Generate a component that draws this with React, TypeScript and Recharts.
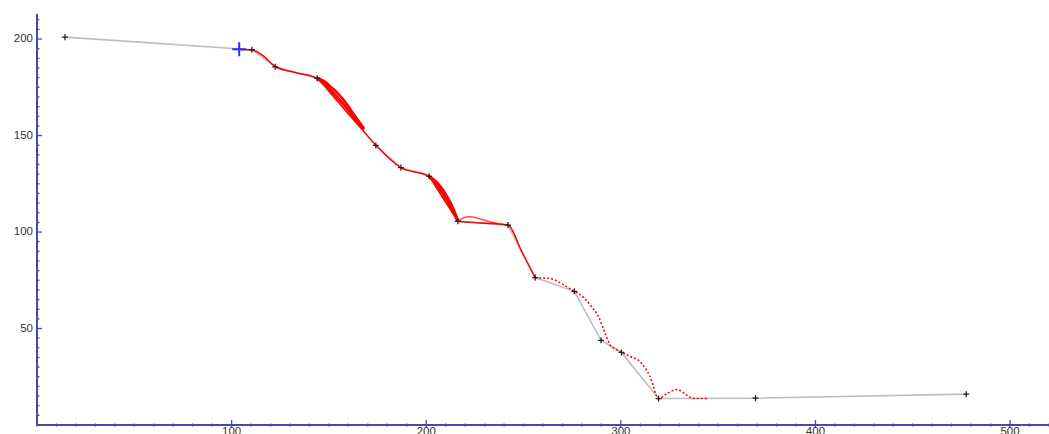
import React from 'react';
import { ComposedChart, Line, XAxis, YAxis, Scatter } from 'recharts';

// Gray polyline (measured points)
const grayX = [14.4, 110.4, 122.4, 144.0, 174.1, 187.0, 201.5, 216.3, 242.0, 256.0, 276.1, 289.8, 300.3, 319.4, 369.2, 477.5];
const grayY = [201.0, 194.5, 185.6, 179.7, 144.9, 133.4, 128.9, 105.6, 103.6, 76.4, 69.3, 43.9, 37.6, 13.7, 13.9, 16.0];

// Red fitted curve, solid part
const redSolidX = [103.6, 110.5, 116.0, 122.4, 133.0, 144.0, 150.6, 158.3, 166.1, 174.1, 187.0, 201.5, 204.6, 207.2, 209.8, 212.3, 214.9, 216.3, 228.0, 242.0, 249.0, 256.0];
const redSolidY = [194.6, 194.3, 191.5, 185.8, 182.6, 179.7, 172.3, 163.3, 154.3, 145.0, 133.4, 128.9, 124.0, 119.9, 115.8, 111.9, 107.8, 105.6, 104.7, 103.6, 90.0, 76.3];

// Red fitted curve, dotted part
const redDotX = [256.0, 263.7, 270.0, 276.1, 281.0, 284.3, 288.6, 292.0, 294.6, 297.0, 300.3, 305.0, 310.0, 315.1, 319.4, 323.7, 328.9, 334.0, 337.4, 344.3];
const redDotY = [76.3, 75.9, 73.0, 69.3, 66.0, 62.1, 56.0, 47.4, 41.3, 39.5, 37.7, 35.5, 32.7, 24.9, 13.7, 16.3, 18.4, 15.4, 13.7, 13.7];

// Red bundle (spread of fitted curves)
const lens1UpX = [144.0, 148.1, 150.6, 154.2, 158.3, 163.5, 168.0];
const lens1UpY = [179.7, 177.9, 175.6, 172.3, 167.5, 160.0, 153.8];
const lens1MidX = [144.0, 148.1, 150.6, 154.2, 158.3, 163.5, 168.0];
const lens1MidY = [179.7, 176.4, 173.9, 169.8, 165.3, 158.6, 153.2];
const lens2UpX = [201.5, 204.6, 207.2, 209.8, 212.3, 214.9, 216.3];
const lens2UpY = [128.9, 126.6, 123.8, 120.0, 115.5, 109.8, 105.6];
const lens2MidX = [201.5, 204.6, 207.2, 209.8, 212.3, 214.9, 216.3];
const lens2MidY = [128.9, 125.3, 121.9, 117.9, 113.7, 108.8, 105.6];
const humpX = [216.3, 219.0, 222.6, 227.8, 233.0, 242.0];
const humpY = [105.6, 107.3, 107.9, 106.8, 105.2, 103.6];

// Blue cross marker
const blueX = [103.9];
const blueY = [194.7];

const xTicks = Array.from({ length: 53 }, (_, i) => i * 10);
const yTicks = Array.from({ length: 43 }, (_, i) => i * 5);

const zip = (xs: number[], ys: number[]) => xs.map((x, i) => ({ x, y: ys[i] }));

const AXIS = '#4a4aa6';
const RED = '#ff0000';
const FONT = 'Liberation Sans, Arial, sans-serif';

const XTick = (props: any) => {
  const { x, y, payload } = props;
  const v = payload.value;
  const major = v % 100 === 0 && v > 0;
  return (
    <g>
      <line x1={x} x2={x} y1={major ? y - 5 : y - 1.5} y2={major ? y + 3 : y + 1.5} stroke={AXIS} strokeWidth={1.3} />
      {major && (
        <text x={x} y={y + 2} textAnchor="middle" dominantBaseline="hanging" fontSize={11.5} fill="#333" fontFamily={FONT}>
          {v}
        </text>
      )}
    </g>
  );
};

const YTick = (props: any) => {
  const { x, y, payload } = props;
  const v = payload.value;
  const major = v % 50 === 0 && v > 0;
  return (
    <g>
      <line x1={x - 1} x2={major ? x + 5 : x + 2.5} y1={y} y2={y} stroke={AXIS} strokeWidth={1.3} />
      {major && (
        <text x={x - 4} y={y} textAnchor="end" dominantBaseline="middle" fontSize={11.5} fill="#333" fontFamily={FONT}>
          {v}
        </text>
      )}
    </g>
  );
};

const PlusDot = (props: any) => {
  const { cx, cy, index } = props;
  if (cx == null || cy == null) return <g key={`d${index}`} />;
  return (
    <path key={`d${index}`} d={`M${cx - 3},${cy}H${cx + 3}M${cx},${cy - 3}V${cy + 3}`} stroke="#222" strokeWidth={1.3} fill="none" />
  );
};

const BlueCross = (props: any) => {
  const { cx, cy } = props;
  return <path d={`M${cx - 7},${cy}H${cx + 7}M${cx},${cy - 7}V${cy + 7}`} stroke="#2b2bff" strokeWidth={2} fill="none" />;
};

export default function App() {
  return (
    <div style={{ position: 'absolute', left: 0, top: 0, background: '#fff' }}>
      <ComposedChart width={1049} height={434} margin={{ top: 14, right: 0, left: 0, bottom: 0 }}>
        <XAxis
          type="number"
          dataKey="x"
          domain={[0, 520]}
          ticks={xTicks}
          interval={0}
          allowDataOverflow
          height={9}
          tickSize={0}
          tickMargin={0}
          tickLine={false}
          axisLine={{ stroke: AXIS, strokeWidth: 2 }}
          tick={<XTick />}
        />
        <YAxis
          type="number"
          dataKey="y"
          domain={[0, 213]}
          ticks={yTicks}
          interval={0}
          allowDataOverflow
          width={37}
          tickSize={0}
          tickMargin={0}
          tickLine={false}
          axisLine={{ stroke: AXIS, strokeWidth: 2 }}
          tick={<YTick />}
        />
        <Line data={zip(grayX, grayY)} dataKey="y" type="linear" stroke="#bdbdbd" strokeWidth={1.6} dot={<PlusDot />} activeDot={false} isAnimationActive={false} />
        <Line data={zip(lens1UpX, lens1UpY)} dataKey="y" type="monotone" stroke={RED} strokeWidth={2.5} dot={false} activeDot={false} isAnimationActive={false} />
        <Line data={zip(lens1MidX, lens1MidY)} dataKey="y" type="monotone" stroke={RED} strokeWidth={3} dot={false} activeDot={false} isAnimationActive={false} />
        <Line data={zip(lens2UpX, lens2UpY)} dataKey="y" type="monotone" stroke={RED} strokeWidth={2.5} dot={false} activeDot={false} isAnimationActive={false} />
        <Line data={zip(lens2MidX, lens2MidY)} dataKey="y" type="monotone" stroke={RED} strokeWidth={3} dot={false} activeDot={false} isAnimationActive={false} />
        <Line data={zip(humpX, humpY)} dataKey="y" type="monotone" stroke="#ff5050" strokeWidth={1.5} dot={false} activeDot={false} isAnimationActive={false} />
        <Line data={zip(redSolidX, redSolidY)} dataKey="y" type="monotone" stroke={RED} strokeWidth={1.5} dot={false} activeDot={false} isAnimationActive={false} />
        <Line data={zip(redDotX, redDotY)} dataKey="y" type="monotone" stroke={RED} strokeWidth={1.5} strokeDasharray="2 2" dot={false} activeDot={false} isAnimationActive={false} />
        <Scatter data={zip(blueX, blueY)} dataKey="y" shape={<BlueCross />} isAnimationActive={false} />
      </ComposedChart>
    </div>
  );
}
